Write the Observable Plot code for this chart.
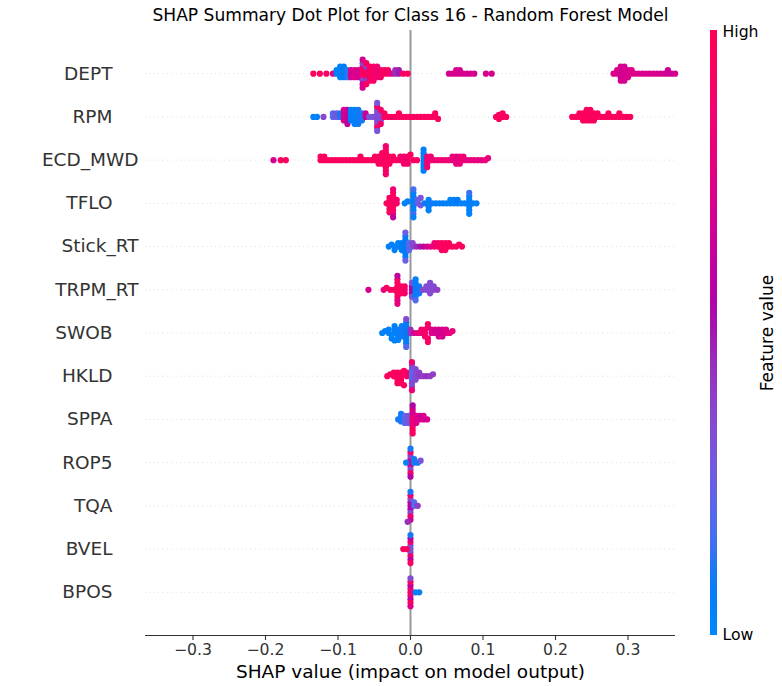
<!DOCTYPE html>
<html>
<head>
<meta charset="utf-8">
<script src="https://cdn.jsdelivr.net/npm/d3@7"></script>
<script src="https://cdn.jsdelivr.net/npm/@observablehq/plot@0.6"></script>
<style>
  html, body { margin: 0; padding: 0; background: #fff; }
  #wrap { position: relative; width: 782px; height: 686px; font-family: "DejaVu Sans", sans-serif; }
  #wrap > svg { position: absolute; left: 0; top: 0; }
  #cbar { position: absolute; left: 709.5px; top: 30px; width: 7.5px; height: 605px; }
</style>
</head>
<body>
<div id="wrap"><div id="cbar"></div></div>
<script>
// ---- chart data -------------------------------------------------------
const title = "SHAP Summary Dot Plot for Class 16 - Random Forest Model";
const xLabel = "SHAP value (impact on model output)";
const features = ["DEPT","RPM","ECD_MWD","TFLO","Stick_RT","TRPM_RT","SWOB","HKLD","SPPA","ROP5","TQA","BVEL","BPOS"];
const xTicks = [-0.3,-0.2,-0.1,0.0,0.1,0.2,0.3];
const xLimits = [-0.3655, 0.3655];
const colorLabels = ["Low","High"];
const colorTitle = "Feature value";

// each entry: [SHAP value, number of samples at that value, feature value 0(low)..1(high)]
const deptPts = [[-0.134,1,0.95],[-0.125,1,0.95],[-0.116,1,0.9],[-0.107,1,0.8],
  [-0.102,2,0.05],[-0.097,4,0.05],[-0.092,4,0.08],[-0.087,3,0.12],
  [-0.082,3,0.7],[-0.077,3,0.75],[-0.072,3,0.7],
  [-0.066,4,0.95],[-0.066,2,0.35],[-0.066,3,0.7],[-0.061,3,0.9],[-0.061,2,0.4],[-0.061,2,0.95],
  [-0.056,5,0.95],[-0.051,5,0.9],[-0.046,4,0.85],[-0.041,3,0.9],[-0.036,2,0.95],[-0.031,2,0.9],
  [-0.026,1,0.8],[-0.021,2,0.45],[-0.016,2,0.5],[-0.010,1,0.95],[-0.004,1,0.95],
  [0.053,1,0.7],[0.058,1,0.7],[0.063,2,0.7],[0.068,2,0.7],[0.073,1,0.7],[0.078,1,0.7],[0.083,1,0.7],[0.088,1,0.7],
  [0.104,1,0.7],[0.112,1,0.7],
  [0.280,1,0.75],[0.285,2,0.72],[0.290,5,0.7],[0.295,5,0.7],[0.300,3,0.72],[0.305,2,0.75],[0.310,1,0.75],
  [0.315,1,0.72],[0.320,1,0.72],[0.325,1,0.75],[0.330,1,0.7],[0.335,1,0.72],[0.340,1,0.7],[0.345,1,0.72],
  [0.350,1,0.68],[0.355,2,0.65],[0.360,1,0.68],[0.365,1,0.7]];
const rpmPts = [[-0.134,1,0.05],[-0.129,1,0.05],[-0.120,1,0.35],[-0.107,2,0.2],[-0.102,2,0.3],[-0.097,2,0.1],
  [-0.092,4,0.7],[-0.087,5,0.6],[-0.082,4,0.05],[-0.077,5,0.05],[-0.072,5,0.1],[-0.067,3,0.1],
  [-0.062,2,0.65],[-0.057,1,0.3],[-0.052,1,0.3],
  [-0.046,5,0.35],[-0.046,2,0.9],[-0.046,2,0.3],[-0.041,3,0.35],[-0.041,2,0.9],
  [-0.036,2,0.95],[-0.031,1,0.95],[-0.026,1,0.95],[-0.021,1,0.95],[-0.016,2,0.95],[-0.011,1,0.95],[-0.006,1,0.95],
  [-0.001,1,0.95],[0.004,1,0.95],[0.009,1,0.95],[0.014,1,0.95],[0.019,1,0.95],[0.024,1,0.95],[0.029,1,0.95],
  [0.034,2,0.95],[0.038,1,0.95],
  [0.118,1,0.95],[0.122,2,0.95],[0.127,2,0.95],[0.132,1,0.95],
  [0.223,1,0.95],[0.228,1,0.95],[0.233,2,0.95],[0.238,3,0.95],[0.243,4,0.95],[0.248,4,0.95],[0.253,3,0.95],
  [0.258,2,0.95],[0.263,1,0.95],[0.268,1,0.95],[0.273,2,0.95],[0.278,1,0.95],[0.283,1,0.95],[0.288,2,0.95],
  [0.293,1,0.95],[0.298,1,0.95],[0.303,1,0.95]];
const ecdPts = [[-0.189,1,0.7],[-0.179,1,0.95],[-0.172,1,0.95],
  [-0.124,2,0.95],[-0.119,2,0.95],[-0.114,1,0.95],[-0.109,1,0.95],[-0.104,1,0.95],[-0.099,1,0.95],[-0.094,1,0.95],
  [-0.089,1,0.95],[-0.084,1,0.95],[-0.079,1,0.95],[-0.074,1,0.95],[-0.069,2,0.95],[-0.064,1,0.95],[-0.059,1,0.95],
  [-0.054,1,0.95],[-0.049,2,0.95],[-0.044,3,0.95],[-0.039,4,0.95],[-0.034,7,0.95],[-0.034,2,0.88],
  [-0.029,3,0.95],[-0.024,2,0.95],[-0.019,1,0.95],[-0.014,2,0.9],[-0.009,3,0.88],[-0.004,3,0.9],
  [0.000,1,0.95],[0.004,1,0.95],[0.009,1,0.95],
  [0.018,7,0.05],[0.023,4,0.85],[0.028,2,0.85],[0.033,1,0.85],[0.038,1,0.85],[0.043,1,0.85],[0.048,1,0.85],
  [0.053,1,0.85],[0.058,2,0.8],[0.063,3,0.8],[0.068,3,0.8],[0.073,2,0.85],[0.078,1,0.8],[0.083,1,0.8],
  [0.088,1,0.8],[0.093,1,0.8],[0.098,1,0.8],[0.103,1,0.8],[0.107,1,0.8]];
const tfloPts = [[-0.033,1,0.95],[-0.029,5,0.95],[-0.024,6,0.95],[-0.024,2,0.85],[-0.024,1,0.6],[-0.019,2,0.9],
  [-0.008,1,0.05],[-0.004,1,0.05],[0.004,6,0.05],[0.004,2,0.15],[0.004,1,0.05],
  [0.010,2,0.25],[0.014,2,0.3],[0.019,1,0.1],[0.025,4,0.05],[0.030,1,0.1],[0.035,1,0.05],[0.040,1,0.05],
  [0.045,1,0.08],[0.050,1,0.05],[0.055,2,0.05],[0.060,2,0.05],[0.065,2,0.08],[0.070,1,0.05],[0.075,1,0.05],
  [0.081,6,0.05],[0.081,1,0.15],[0.086,1,0.05],[0.091,1,0.05]];
const stickPts = [[-0.030,1,0.05],[-0.026,1,0.05],[-0.022,2,0.05],[-0.017,2,0.05],[-0.012,3,0.08],
  [-0.007,7,0.08],[-0.007,2,0.25],[-0.002,3,0.2],
  [0.003,2,0.35],[0.008,1,0.45],[0.013,1,0.5],[0.018,1,0.6],[0.023,1,0.7],[0.028,1,0.75],[0.033,2,0.85],
  [0.038,2,0.9],[0.043,3,0.95],[0.048,3,0.95],[0.053,2,0.95],[0.058,1,0.95],[0.063,1,0.95],[0.067,1,0.95],[0.071,1,0.95]];
const trpmPts = [[-0.058,1,0.7],[-0.037,1,0.8],[-0.033,1,0.95],[-0.028,1,0.9],[-0.023,1,0.95],
  [-0.018,6,0.95],[-0.018,2,0.8],[-0.018,1,0.6],[-0.013,3,0.95],[-0.008,3,0.9],
  [0.002,3,0.55],[0.002,2,0.3],[0.007,6,0.05],[0.007,1,0.2],[0.012,3,0.1],
  [0.017,1,0.35],[0.022,2,0.35],[0.027,4,0.35],[0.032,2,0.35],[0.037,1,0.4]];
const swobPts = [[-0.039,1,0.05],[-0.035,1,0.05],[-0.030,2,0.05],[-0.026,2,0.05],[-0.022,4,0.05],[-0.017,4,0.05],
  [-0.012,4,0.1],[-0.006,7,0.08],[-0.006,1,0.35],[-0.006,1,0.2],
  [0.000,2,0.45],[0.005,1,0.7],[0.010,1,0.8],[0.015,2,0.85],[0.020,3,0.9],[0.024,4,0.9],[0.029,2,0.75],
  [0.034,2,0.7],[0.039,3,0.7],[0.044,3,0.7],[0.049,2,0.75],[0.054,1,0.8],[0.058,1,0.8]];
const hkldPts = [[-0.032,1,0.95],[-0.028,1,0.95],[-0.023,2,0.95],[-0.018,4,0.95],[-0.013,4,0.95],[-0.009,2,0.95],
  [-0.005,2,0.9],[0.002,4,0.2],[0.002,3,0.35],[0.002,2,0.85],
  [0.007,4,0.35],[0.012,2,0.4],[0.017,1,0.4],[0.022,1,0.45],[0.027,1,0.4],[0.031,1,0.4]];
const sppaPts = [[-0.017,1,0.1],[-0.013,3,0.1],[-0.008,3,0.2],[-0.003,3,0.3],
  [0.003,4,0.85],[0.003,2,0.7],[0.003,2,0.95],[0.003,1,0.55],
  [0.008,3,0.75],[0.013,2,0.7],[0.018,2,0.7],[0.023,1,0.7]];
const rop5Pts = [[0.000,3,0.7],[0.000,2,0.35],[0.000,2,0.9],[0.000,1,0.1],[0.000,1,0.55],
  [-0.006,1,0.05],[0.005,2,0.1],[0.010,1,0.1],[0.014,1,0.3]];
const tqaPts = [[0.000,3,0.55],[0.000,2,0.35],[0.000,2,0.9],[0.000,1,0.1],[0.000,1,0.7],
  [-0.004,1,0.45],[0.005,2,0.2],[0.010,1,0.4]];
const bvelPts = [[0.000,3,0.3],[0.000,2,0.9],[0.000,2,0.6],[0.000,1,0.1],[0.000,1,0.95],[-0.010,1,0.95],[-0.005,1,0.95]];
const bposPts = [[0.000,3,0.85],[0.000,2,0.6],[0.000,2,0.95],[0.000,1,0.35],[0.000,1,0.75],[0.007,1,0.05],[0.012,1,0.05]];

const seriesByFeature = [deptPts, rpmPts, ecdPts, tfloPts, stickPts, trpmPts, swobPts, hkldPts, sppaPts, rop5Pts, tqaPts, bvelPts, bposPts];

// ---- build tidy table ---------------------------------------------------
const samples = [];
features.forEach((f, i) => {
  for (const [x, n, c] of seriesByFeature[i]) {
    for (let k = 0; k < n; k++) samples.push({feature: f, x, c});
  }
});
const rows = features.map((f, i) => ({feature: f, pos: features.length - 1 - i}));

// SHAP red_blue colormap (LCh interpolation)
function redBlue(t) {
  const l = t < 0.5 ? 54 - 28 * t : 40 + 28 * (t - 0.5);
  const c = 70 + 20 * t;
  const h = 266.93 + t * (380.32 - 266.93);
  return d3.hcl(h % 360, c, l).formatHex();
}

const W = 782, H = 686, mL = 145, mR = 107, mT = 30, mB = 51;
const fmt = d3.format(".1f");
const labelFont = 18.5;

// background: grid, zero line, axis, labels
const bg = Plot.plot({
  width: W, height: H, marginLeft: mL, marginRight: mR, marginTop: mT, marginBottom: mB,
  style: {background: "transparent", overflow: "visible", fontFamily: "DejaVu Sans, sans-serif", color: "#333"},
  x: {domain: xLimits, axis: null},
  y: {type: "linear", domain: [-1, features.length], axis: null},
  marks: [
    Plot.ruleY(rows, {y: "pos", stroke: "#cccccc", strokeWidth: 0.8, strokeDasharray: "0.8,3.6"}),
    Plot.ruleX([0], {stroke: "#999999", strokeWidth: 2}),
    Plot.ruleY([-1], {stroke: "#333333", strokeWidth: 1.1}),
    Plot.axisX(xTicks, {anchor: "bottom", tickSize: 5, tickPadding: 3.5, fontSize: 15.7, tickFormat: fmt, label: null, strokeWidth: 1.1}),
    Plot.text([xLabel], {frameAnchor: "bottom", lineAnchor: "middle", dy: 36.5, fontSize: labelFont, fill: "#000"}),
    Plot.text([title], {frameAnchor: "top", lineAnchor: "middle", dy: -15, fontSize: 17.1, fill: "#000"}),
    Plot.text(rows, {filter: d => !d.feature.includes("_"), y: "pos", text: "feature", frameAnchor: "left", textAnchor: "end", lineAnchor: "middle", dx: -33, fontSize: labelFont, fill: "#333333"}),
    Plot.text(rows, {filter: d => d.feature.includes("_"), y: "pos", text: "feature", frameAnchor: "left", textAnchor: "end", lineAnchor: "middle", dx: -7, fontSize: labelFont, fill: "#333333"}),
    Plot.text([colorLabels[1]], {frameAnchor: "top-right", lineAnchor: "middle", dx: 47, dy: 1, textAnchor: "start", fontSize: 15.7, fill: "#000"}),
    Plot.text([colorLabels[0]], {frameAnchor: "bottom-right", lineAnchor: "middle", dx: 47, dy: -1, textAnchor: "start", fontSize: 15.7, fill: "#000"}),
    Plot.text([colorTitle], {frameAnchor: "right", textAnchor: "middle", lineAnchor: "middle", dx: 92, rotate: -90, fontSize: 17.1, fill: "#000"})
  ]
});

// foreground: beeswarm dots, one facet row per feature
const fg = Plot.plot({
  width: W, height: H, marginLeft: mL, marginRight: mR, marginTop: mT, marginBottom: mB,
  style: {background: "transparent", overflow: "visible"},
  x: {domain: xLimits, axis: null},
  fy: {domain: features, axis: null, paddingInner: 0, paddingOuter: 0.5, round: false},
  color: {domain: [0, 1], interpolate: t => redBlue(t)},
  marks: [
    Plot.dot(samples, Plot.dodgeY({anchor: "middle", padding: -2.7},
      {x: "x", fy: "feature", fill: "c", r: 3.1, stroke: null}))
  ]
});

const wrap = document.getElementById("wrap");
wrap.insertBefore(bg, wrap.firstChild);
wrap.appendChild(fg);

// colour bar from the same colormap
const stops = d3.range(0, 21).map(i => `${redBlue(i / 20)} ${i * 5}%`).join(",");
document.getElementById("cbar").style.background = `linear-gradient(to top, ${stops})`;
</script>
</body>
</html>
